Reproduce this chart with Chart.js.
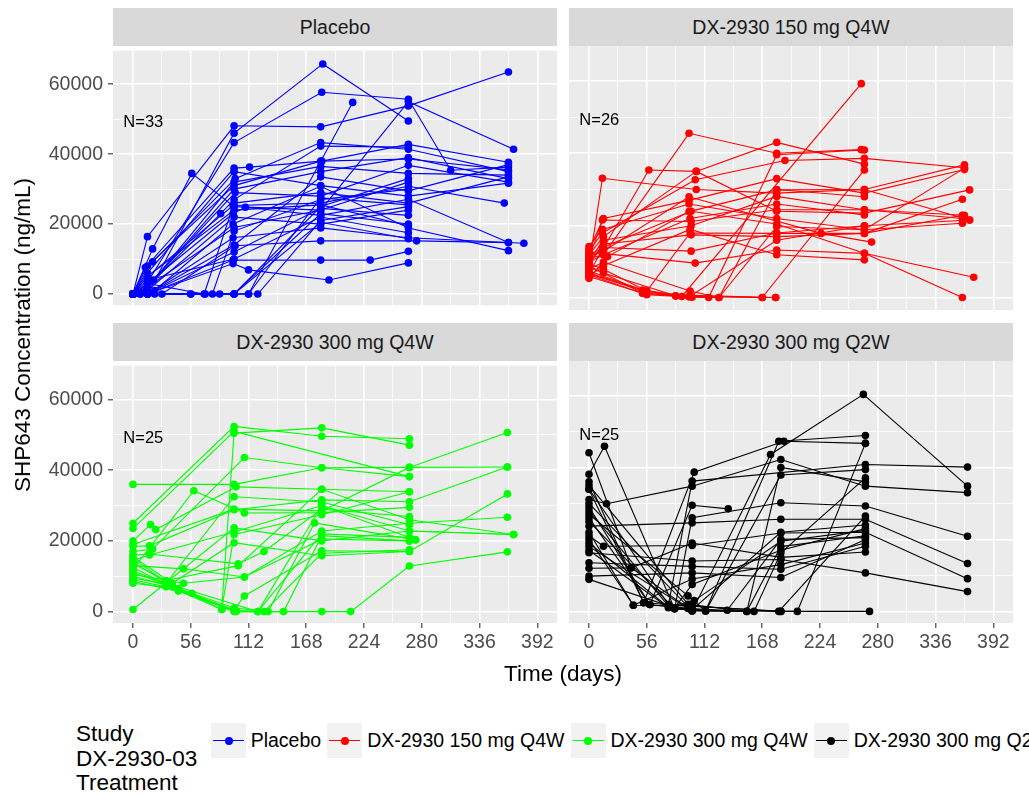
<!DOCTYPE html>
<html>
<head>
<meta charset="utf-8">
<title>SHP643 concentration over time</title>
<script src="https://cdn.jsdelivr.net/npm/chart.js@4.4.0/dist/chart.umd.min.js"></script>
<style>
  html, body { margin: 0; padding: 0; background: #fff; }
  body {
    width: 1029px; height: 798px; position: relative; overflow: hidden;
    font-family: 'Liberation Sans', Arial, sans-serif;
  }
  canvas.panel { position: absolute; }
  .strip {
    position: absolute; background: #D9D9D9; color: #1A1A1A;
    font-size: 19.5px; text-align: center; z-index: 2; white-space: nowrap;
  }
  .axis-title { position: absolute; color: #000; font-size: 22.5px; white-space: nowrap; z-index: 3; }
  #yTitle { left: 23px; top: 335px; transform: translate(-50%, -50%) rotate(-90deg); }
  #xTitle { left: 563px; top: 674px; transform: translate(-50%, -50%); }
  #legendTitle {
    position: absolute; left: 76px; top: 722px; font-size: 22.5px; line-height: 24.7px; color: #000;
  }
  #legendKeys {
    position: absolute; left: 211px; top: 723px; height: 35px;
    display: flex; align-items: center; white-space: nowrap;
  }
  .key { position: relative; width: 35px; height: 35px; background: #F2F2F2; flex: none; }
  .key .ln { position: absolute; left: 2px; right: 2px; top: 17px; height: 1.2px; }
  .key .pt { position: absolute; left: 13.5px; top: 13.5px; width: 8px; height: 8px; border-radius: 50%; }
  .lab { font-size: 19.5px; color: #000; margin: 0 6.3px 0 4.7px; flex: none; }
</style>
</head>
<body>

<div id="yTitle" class="axis-title">SHP643 Concentration (ng/mL)</div>
<div id="xTitle" class="axis-title">Time (days)</div>
<div id="legendTitle">Study<br>DX-2930-03<br>Treatment</div>
<div id="legendKeys"></div>

<script>
// axis breaks: time in days, concentration in ng/mL
const xMajorTicks = [0, 56, 112, 168, 224, 280, 336, 392];
const xMinorTicks = [28, 84, 140, 196, 252, 308, 364];
const yMajorTicks = [0, 20000, 40000, 60000];
const yMinorTicks = [10000, 30000, 50000];

// treatment arms and subject counts
const armNames = ['Placebo', 'DX-2930 150 mg Q4W', 'DX-2930 300 mg Q4W', 'DX-2930 300 mg Q2W'];
const armCounts = ['N=33', 'N=26', 'N=25', 'N=25'];
const armColors = ['#0000FF', '#FF0000', '#00FF00', '#000000'];

// one row per subject: [day, concentration]
const placeboSubjects = [
    [[0, 0], [14, 16400], [98, 48100], [182, 47800], [267, 53800], [364, 63500]],
    [[0, 0], [14, 0], [98, 46000], [184, 65800], [267, 49500]],
    [[0, 0], [7, 0], [98, 43300], [183, 57700], [267, 55700], [308, 35400], [364, 36300]],
    [[0, 0], [19, 12900], [57, 34500], [98, 25000], [182, 24000], [267, 55000], [369, 41400]],
    [[0, 0], [12, 7600], [98, 36000], [113, 36300], [183, 38000], [267, 42800], [364, 37700]],
    [[0, 0], [19, 9200], [99, 33000], [182, 43300], [267, 41400], [364, 35000]],
    [[0, 0], [14, 2000], [98, 30000], [182, 35000], [267, 39000], [364, 33000]],
    [[0, 0], [7, 0], [99, 29000], [182, 28000], [267, 36800], [364, 32000]],
    [[0, 0], [14, 5000], [97, 25300], [182, 26000], [267, 30800], [360, 26000]],
    [[0, 0], [14, 3000], [97, 23000], [109, 24800], [182, 22500], [267, 27100], [364, 14700]],
    [[0, 0], [21, 1000], [97, 20000], [182, 30800], [267, 18900], [364, 12400]],
    [[0, 0], [14, 0], [97, 16100], [182, 18900], [267, 16100], [379, 14500]],
    [[0, 0], [28, 0], [99, 13800], [182, 15200], [275, 15200], [364, 14700]],
    [[0, 0], [14, 0], [97, 9700], [182, 9700], [230, 9700], [267, 12200]],
    [[0, 0], [14, 0], [97, 8700], [112, 6900], [190, 4000], [267, 8900]],
    [[0, 0], [14, 0], [56, 0], [98, 0], [182, 25000], [267, 33000]],
    [[0, 0], [21, 0], [98, 0], [121, 0], [182, 21000], [267, 25000]],
    [[0, 0], [14, 0], [70, 0], [98, 0], [182, 23000], [267, 20000]],
    [[0, 0], [14, 0], [84, 0], [112, 0], [213, 54800]],
    [[0, 0], [14, 2000], [85, 23000], [98, 27000], [182, 42300], [267, 42000]],
    [[0, 0], [20, 4000], [98, 32000], [182, 36500], [267, 34500], [364, 34000]],
    [[0, 0], [14, 6000], [98, 35000], [182, 31000], [267, 28000], [364, 31700]],
    [[0, 0], [14, 1000], [98, 22000], [182, 20000], [267, 24000]],
    [[0, 0], [14, 0], [77, 0], [98, 18000], [182, 27000], [267, 30000]],
    [[0, 0], [14, 0], [98, 12000], [182, 24500], [267, 22500]],
    [[0, 0], [14, 3000], [69, 0], [98, 26000], [182, 29000], [267, 26000], [364, 33500]],
    [[0, 0], [14, 8000], [98, 31000], [182, 38000], [267, 38600], [364, 35500]],
    [[0, 0], [14, 4000], [98, 10000], [182, 22000], [267, 17500]],
    [[0, 0], [14, 0], [98, 0], [182, 20500], [267, 15800]],
    [[0, 0], [14, 0], [56, 0], [112, 0], [182, 27500], [267, 25500]],
    [[0, 0], [14, 5000], [98, 24000], [182, 25500], [267, 19500]],
    [[0, 0], [14, 0], [98, 14000], [182, 33500], [267, 29500], [364, 37000]],
    [[0, 0], [14, 2000], [98, 19000], [182, 24000], [267, 32000]]
];

const q4w150Subjects = [
    [[0, 9000], [13, 33100], [104, 30000], [182, 29000], [267, 30000], [364, 36800]],
    [[0, 7000], [58, 35400], [104, 35000], [182, 24000], [267, 23500], [369, 29900]],
    [[0, 10000], [14, 12000], [97, 45500], [182, 40000], [264, 41000]],
    [[0, 6000], [52, 1400], [90, 500], [264, 59200]],
    [[0, 11000], [13, 21600], [99, 21200], [182, 24400], [267, 24400], [364, 22900]],
    [[0, 5500], [18, 11500], [97, 23900], [182, 29900], [267, 30000], [369, 21600]],
    [[0, 13000], [13, 18000], [103, 32700], [190, 38000], [267, 38600], [364, 36000]],
    [[0, 7500], [52, 2300], [97, 500], [116, 200], [182, 39600], [267, 40900]],
    [[0, 9500], [14, 15000], [99, 17500], [182, 17000], [267, 17900], [362, 27300]],
    [[0, 6500], [56, 1000], [100, 300], [126, 200], [182, 19800], [267, 18900], [362, 20700]],
    [[0, 12500], [13, 12400], [103, 9700], [182, 13300], [267, 12400], [373, 5800]],
    [[0, 8500], [14, 7000], [84, 700], [168, 200], [267, 35400]],
    [[0, 10500], [14, 16000], [99, 20000], [182, 28100], [267, 24400], [362, 22000]],
    [[0, 11500], [14, 13000], [97, 28000], [225, 17900], [274, 15500]],
    [[0, 6000], [14, 9000], [98, 19000], [182, 12000], [267, 10600]],
    [[0, 14300], [13, 19000], [97, 26000], [182, 22000], [267, 18900], [364, 35900]],
    [[0, 9000], [52, 1400], [98, 800], [181, 200]],
    [[0, 7000], [56, 2000], [98, 18000], [182, 17900], [267, 17900], [362, 22900]],
    [[0, 10000], [13, 14000], [99, 24000], [182, 20500], [267, 12400], [362, 200]],
    [[0, 12000], [14, 17000], [104, 35000], [182, 43000], [267, 37000]],
    [[0, 8000], [14, 10000], [98, 2000], [126, 200], [182, 30000], [267, 28000]],
    [[0, 13500], [14, 22000], [97, 27000], [182, 33000], [267, 29000], [364, 35500]],
    [[0, 6800], [52, 2000], [97, 400], [182, 16000], [267, 20000]],
    [[0, 11000], [14, 12000], [98, 22000], [182, 26000], [267, 23000]],
    [[0, 9500], [14, 8000], [56, 2000], [84, 600], [168, 200], [181, 200]],
    [[0, 12000], [14, 14000], [99, 13000], [182, 18000], [267, 20000], [369, 21600]]
];

const q4w300Subjects = [
    [[0, 36000], [98, 36000], [183, 40700], [268, 40800], [363, 50700]],
    [[0, 25000], [98, 52400], [183, 49600], [268, 48900]],
    [[0, 23500], [98, 51000], [268, 38200]],
    [[0, 20000], [17, 24600], [22, 23200], [100, 35300], [183, 34600], [268, 33900]],
    [[0, 18500], [16, 18600], [98, 28800], [183, 31600], [268, 31100], [363, 40900]],
    [[0, 16000], [16, 16300], [102, 13500], [127, 17000], [183, 29000], [268, 26900]],
    [[0, 15000], [32, 8400], [86, 600], [98, 50500], [183, 52000], [268, 47100]],
    [[0, 14000], [44, 6100], [100, 200], [121, 0], [183, 30000], [268, 22800], [369, 21800]],
    [[0, 13000], [49, 12100], [108, 9800], [183, 22800], [268, 25000], [363, 26700]],
    [[0, 12000], [59, 34200], [108, 27900], [183, 28000], [268, 29500]],
    [[0, 11000], [57, 5200], [98, 1000], [131, 0], [176, 25100], [274, 20300]],
    [[0, 10000], [38, 7000], [98, 0], [146, 0], [183, 21500], [268, 20000]],
    [[0, 9000], [32, 7000], [98, 500], [108, 4400], [183, 17200], [268, 17000], [363, 33300]],
    [[0, 8000], [44, 6500], [100, 0], [183, 0], [211, 0], [268, 12900], [363, 16900]],
    [[0, 600], [98, 23700], [183, 20000], [268, 22800], [369, 21800]],
    [[0, 17000], [19, 17700], [108, 43600], [183, 40700], [268, 38200]],
    [[0, 15500], [38, 8000], [98, 19500], [183, 15800], [268, 17000]],
    [[0, 12500], [44, 6000], [86, 600], [98, 21800], [183, 27400], [268, 33900]],
    [[0, 11500], [32, 8000], [98, 32500], [183, 31000], [268, 24600]],
    [[0, 9500], [38, 7500], [121, 0], [183, 22000], [268, 21000]],
    [[0, 8500], [44, 5800], [98, 200], [127, 0], [183, 16500], [268, 17500]],
    [[0, 14500], [16, 16000], [98, 22500], [183, 30000], [274, 20300]],
    [[0, 19000], [98, 29000], [183, 28500], [268, 40800], [363, 40900]],
    [[0, 13500], [32, 8800], [102, 13000], [183, 34600], [268, 26000], [369, 21800]],
    [[0, 10500], [49, 8000], [108, 9800], [183, 20500], [268, 20000]]
];

const q2w300Subjects = [
    [[0, 44100], [41, 12100], [100, 100], [176, 43600], [266, 60300], [367, 34800]],
    [[0, 38100], [15, 45900], [83, 700], [113, 100], [184, 47300], [268, 48900]],
    [[0, 36000], [53, 2400], [102, 38700], [189, 47300], [268, 46700]],
    [[0, 34000], [77, 1900], [100, 36200], [268, 40800], [367, 40100]],
    [[0, 31100], [17, 29900], [100, 34800], [186, 42200], [268, 34800], [367, 33000]],
    [[0, 29000], [59, 1900], [100, 29500], [135, 28500]],
    [[0, 27000], [96, 4300], [113, 100], [186, 37900], [268, 39400]],
    [[0, 25000], [83, 700], [100, 26000], [186, 30200], [268, 29300], [367, 20900]],
    [[0, 23700], [100, 24600], [186, 25600], [268, 25600], [367, 13300]],
    [[0, 21000], [14, 18100], [100, 18300], [186, 21800], [268, 22000], [367, 9100]],
    [[0, 20000], [43, 1700], [100, 1500], [186, 0], [272, 0]],
    [[0, 18000], [96, 800], [134, 300], [186, 20000], [268, 20500]],
    [[0, 17000], [77, 1000], [113, 200], [153, 0], [186, 18000], [268, 21000]],
    [[0, 16300], [100, 14000], [186, 14400], [268, 10700], [367, 5500]],
    [[0, 13500], [100, 12500], [186, 11700], [268, 18100]],
    [[0, 9800], [100, 10700], [186, 9400], [268, 20000]],
    [[0, 8900], [83, 1000], [100, 7500], [186, 17000], [268, 23000]],
    [[0, 30000], [100, 100], [160, 0], [186, 16300], [268, 37100]],
    [[0, 28000], [77, 1500], [113, 300], [186, 0], [202, 0], [268, 46700]],
    [[0, 26000], [59, 1900], [100, 500], [186, 22000], [268, 24000]],
    [[0, 33900], [53, 2400], [96, 1500], [184, 0], [268, 26500]],
    [[0, 22000], [43, 1700], [100, 9000], [186, 13000], [268, 19000]],
    [[0, 19000], [77, 1200], [102, 3000], [186, 19500], [268, 22500]],
    [[0, 35000], [96, 2000], [153, 0], [186, 40000], [268, 36000]],
    [[0, 12000], [41, 12100], [100, 19000], [186, 15000], [268, 16500]]
];

(function () {
    const armSubjects = [placeboSubjects, q4w150Subjects, q4w300Subjects, q2w300Subjects];

    // shared scale limits (facet panels use fixed scales)
    const X_MIN = -19.4, X_MAX = 411.1;
    const Y_MIN = -3230, Y_MAX = 69585;
    const countLabelAt = [10, 49000];

    // panel boxes in page pixels: [left, top, width, height]
    const PAD = 12;
    const Y_AXIS_W = 80;
    const X_AXIS_H = 44;
    const STRIP_H = 38;
    const panelBoxes = [
        [113, 46, 444, 264],
        [569, 46, 444, 264],
        [113, 361, 444, 262],
        [569, 361, 444, 262]
    ];

    const tickFont = { family: "'Liberation Sans', Arial, sans-serif", size: 19.5 };
    const xGrid = xMajorTicks.concat(xMinorTicks).sort((a, b) => a - b);
    const yGrid = yMajorTicks.concat(yMinorTicks).sort((a, b) => a - b);

    // grey panel fill behind the grid
    const panelBackground = {
        id: 'panelBackground',
        beforeDraw(chart) {
            const { ctx, chartArea: a } = chart;
            ctx.save();
            ctx.fillStyle = '#EBEBEB';
            ctx.fillRect(a.left, a.top, a.right - a.left, a.bottom - a.top);
            ctx.restore();
        }
    };

    // "N=.." annotation placed in data coordinates
    const countLabel = {
        id: 'countLabel',
        afterDatasetsDraw(chart, args, opts) {
            const { ctx, scales } = chart;
            ctx.save();
            ctx.fillStyle = '#000';
            ctx.font = "16.5px 'Liberation Sans', Arial, sans-serif";
            ctx.textAlign = 'center';
            ctx.textBaseline = 'middle';
            ctx.fillText(opts.text, scales.x.getPixelForValue(countLabelAt[0]), scales.y.getPixelForValue(countLabelAt[1]));
            ctx.restore();
        }
    };

    function gridWidth(majors) {
        return ctx => (ctx.tick && majors.includes(ctx.tick.value)) ? 1.6 : 0.8;
    }

    function tickColor(majors) {
        return ctx => (ctx.tick && majors.includes(ctx.tick.value)) ? '#333333' : 'rgba(0,0,0,0)';
    }

    function panelOptions(idx, showX, showY) {
        return {
            responsive: false,
            animation: false,
            events: [],
            layout: { autoPadding: false, padding: { top: PAD, right: PAD, bottom: PAD, left: PAD } },
            plugins: {
                legend: { display: false },
                tooltip: { enabled: false },
                countLabel: { text: armCounts[idx] }
            },
            scales: {
                x: {
                    type: 'linear',
                    position: 'bottom',
                    min: X_MIN,
                    max: X_MAX,
                    afterBuildTicks: axis => { axis.ticks = xGrid.map(v => ({ value: v })); },
                    afterFit: axis => { axis.height = showX ? X_AXIS_H : 0; },
                    border: { display: false },
                    grid: {
                        color: '#FFFFFF',
                        lineWidth: gridWidth(xMajorTicks),
                        drawTicks: showX,
                        tickLength: 5,
                        tickWidth: 1.1,
                        tickColor: tickColor(xMajorTicks)
                    },
                    ticks: {
                        display: showX,
                        autoSkip: false,
                        maxRotation: 0,
                        padding: 3,
                        color: '#4D4D4D',
                        font: tickFont,
                        callback: v => xMajorTicks.includes(v) ? String(v) : ''
                    }
                },
                y: {
                    type: 'linear',
                    position: 'left',
                    min: Y_MIN,
                    max: Y_MAX,
                    afterBuildTicks: axis => { axis.ticks = yGrid.map(v => ({ value: v })); },
                    afterFit: axis => { axis.width = showY ? Y_AXIS_W : 0; },
                    border: { display: false },
                    grid: {
                        color: '#FFFFFF',
                        lineWidth: gridWidth(yMajorTicks),
                        drawTicks: showY,
                        tickLength: 5,
                        tickWidth: 1.1,
                        tickColor: tickColor(yMajorTicks)
                    },
                    ticks: {
                        display: showY,
                        autoSkip: false,
                        padding: 5,
                        color: '#4D4D4D',
                        font: tickFont,
                        callback: v => yMajorTicks.includes(v) ? String(v) : ''
                    }
                }
            }
        };
    }

    function subjectDatasets(subjects, color) {
        return subjects.map(s => ({
            data: s.map(p => ({ x: p[0], y: p[1] })),
            showLine: true,
            borderColor: color,
            backgroundColor: color,
            borderWidth: 1.1,
            pointRadius: 3.8,
            pointBorderWidth: 0,
            pointBackgroundColor: color,
            clip: false
        }));
    }

    // ---------------------------
    // Build the four facet panels
    // ---------------------------
    panelBoxes.forEach((box, idx) => {
        const [left, top, w, h] = box;
        const showY = idx % 2 === 0;
        const showX = idx >= 2;
        const yW = showY ? Y_AXIS_W : 0;
        const xH = showX ? X_AXIS_H : 0;

        const canvas = document.createElement('canvas');
        canvas.className = 'panel';
        canvas.width = PAD + yW + w + PAD;
        canvas.height = PAD + h + xH + PAD;
        canvas.style.left = (left - PAD - yW) + 'px';
        canvas.style.top = (top - PAD) + 'px';
        document.body.appendChild(canvas);

        const strip = document.createElement('div');
        strip.className = 'strip';
        strip.style.left = left + 'px';
        strip.style.top = (top - STRIP_H - 0.5) + 'px';
        strip.style.width = w + 'px';
        strip.style.height = STRIP_H + 'px';
        strip.style.lineHeight = STRIP_H + 'px';
        strip.textContent = armNames[idx];
        document.body.appendChild(strip);

        new Chart(canvas.getContext('2d'), {
            type: 'scatter',
            data: { datasets: subjectDatasets(armSubjects[idx], armColors[idx]) },
            options: panelOptions(idx, showX, showY),
            plugins: [panelBackground, countLabel]
        });
    });

    // ---------------------------
    // Legend along the bottom
    // ---------------------------
    let html = '';
    armNames.forEach((name, i) => {
        html += `<span class="key"><span class="ln" style="background:${armColors[i]}"></span>` +
                `<span class="pt" style="background:${armColors[i]}"></span></span>` +
                `<span class="lab">${name}</span>`;
    });
    document.getElementById('legendKeys').innerHTML = html;
})();
</script>
</body>
</html>
